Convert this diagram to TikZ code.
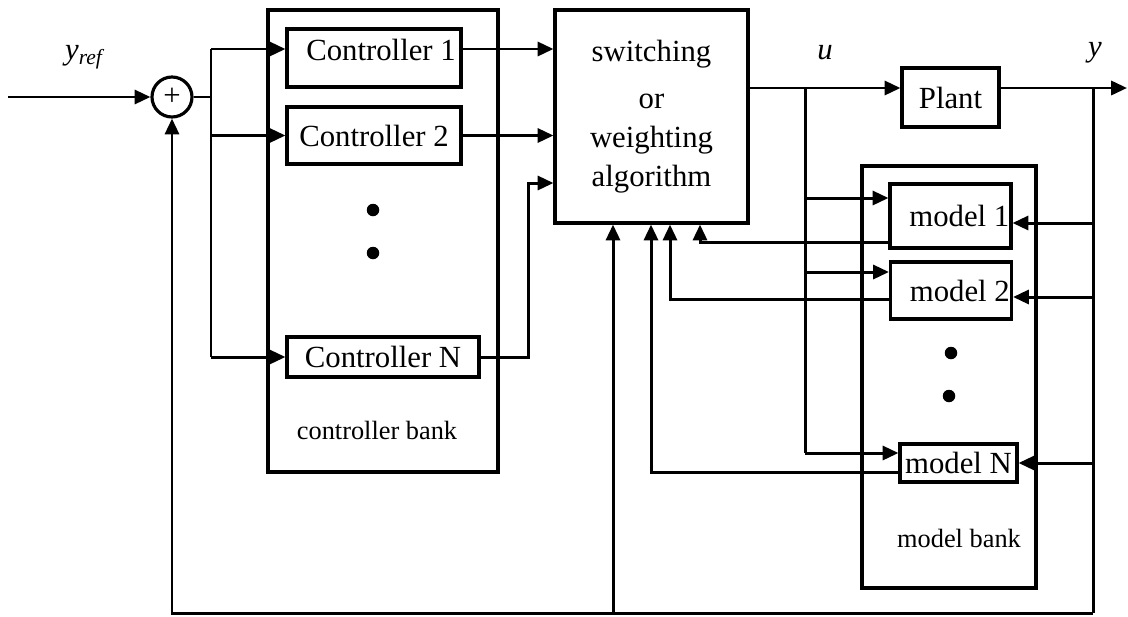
\documentclass[tikz,border=0pt]{standalone}
\usepackage{fontspec}
\setmainfont{Liberation Serif}
\usetikzlibrary{arrows.meta}

\begin{document}
\begin{tikzpicture}[
  x=0.02cm, y=-0.02cm,
  box/.style={draw, line width=1.8pt, inner sep=1pt, align=center, font=\fontsize{17.5}{22}\selectfont},
  bank/.style={draw, line width=1.8pt},
  dot/.style={circle, fill, inner sep=0pt, minimum size=0.25cm},
  sig/.style={inner sep=0pt, font=\fontsize{17.5}{22}\selectfont\itshape},
  small/.style={inner sep=0pt, font=\fontsize{15}{18}\selectfont},
  >={Triangle[length=9pt,width=8pt]}, line width=1.7pt]
\useasboundingbox (0,0) rectangle (1128,616);
\node[bank, minimum width=4.6cm, minimum height=9.24cm] (cbank) at (383,241) {};
\node[bank, minimum width=3.48cm, minimum height=8.44cm] (mbank) at (949,377) {};
\node[circle, draw, line width=1.8pt, minimum size=0.8cm, inner sep=0pt, font=\fontsize{17.5}{20}\selectfont] (sum) at (172,97) {+};
\node[box, minimum width=3.48cm, minimum height=1.16cm, text depth=9.5pt] (ctrl1) at (374,58) {\hspace{8pt}Controller 1};
\node[box, minimum width=3.48cm, minimum height=1.14cm] (ctrl2) at (374,135.5) {Controller 2};
\node[box, minimum width=3.84cm, minimum height=0.8cm] (ctrlN) at (383,357) {Controller N};
\node[dot] (cd1) at (373,210) {};
\node[dot] (cd2) at (373,253) {};
\node[small] (cbl) at (377,430) {controller bank};
\node[box, minimum width=3.86cm, minimum height=4.26cm] (sw) at (651.5,116.5) {switching\\[5pt]or\\weighting\\algorithm};
\node[box, minimum width=1.94cm, minimum height=1.18cm] (plant) at (950.5,97.5) {Plant};
\node[box, minimum width=2.34cm, minimum height=1.28cm] (m1) at (950.5,216) {\hspace{10pt}model 1};
\node[box, minimum width=2.36cm, minimum height=1.14cm] (m2) at (951,290.5) {\hspace{10pt}model 2};
\node[box, minimum width=2.34cm, minimum height=0.76cm] (mN) at (958.5,463) {model N};
\node[dot] (md1) at (951,353) {};
\node[dot] (md2) at (949,396) {};
\node[small] (mbl) at (959,538) {model bank};
\node[sig] (yref) at (84,57) {y\textsubscript{ref}};
\node[sig] (ulab) at (825,53) {u};
\node[sig] (ylab) at (1095,53) {y};
\coordinate (in) at (8,97);
\coordinate (br) at (211,97);
\coordinate (b1) at (211,49);
\coordinate (bN) at (211,357);
\coordinate (kN) at (528,183);
\coordinate (ub) at (805,88);
\coordinate (u1) at (805,198);
\coordinate (u2) at (805,272);
\coordinate (uN) at (805,453);
\coordinate (yb) at (1093,88);
\coordinate (y1) at (1093,223);
\coordinate (y2) at (1093,297);
\coordinate (yN) at (1093,463);
\coordinate (yf) at (1093,613);
\coordinate (sf) at (613,613);
\coordinate (out) at (1127,88);
\coordinate (o1) at (700,242);
\coordinate (o2) at (670,299);
\coordinate (oN) at (651,472);
\draw[->] (in) -- (sum.west);
\draw (sum.east) -- (br);
\draw (b1) -- (bN);
\draw[->] (b1) -- (ctrl1.west |- b1);
\draw[->] (br |- ctrl2) -- (ctrl2.west);
\draw[->] (bN) -- (ctrlN.west);
\draw[->] (ctrl1.east |- b1) -- (sw.west |- b1);
\draw[->] (ctrl2.east) -- (sw.west |- ctrl2);
\draw[->] (ctrlN.east) -| (kN) -- (sw.west |- kN);
\draw[->] (sw.east |- ub) -- (plant.west |- ub);
\draw (plant.east |- yb) -- (yb);
\draw[->] (yb) -- (out);
\draw (ub) -- (uN);
\draw[->] (u1) -- (m1.west |- u1);
\draw[->] (u2) -- (m2.west |- u2);
\draw[->] (uN) -- (mN.west |- uN);
\draw (yb) -- (yf);
\draw[->] (y1) -- (m1.east |- y1);
\draw[->] (y2) -- (m2.east |- y2);
\draw[->] (yN) -- (mN.east |- yN);
\draw[->] (m1.west |- o1) -| (sw.south -| o1);
\draw[->] (m2.west |- o2) -| (sw.south -| o2);
\draw[->] (mN.west |- oN) -| (sw.south -| oN);
\draw[->] (sf) -- (sw.south -| sf);
\draw[->] (yf) -| (sum.south);
\end{tikzpicture}
\end{document}
